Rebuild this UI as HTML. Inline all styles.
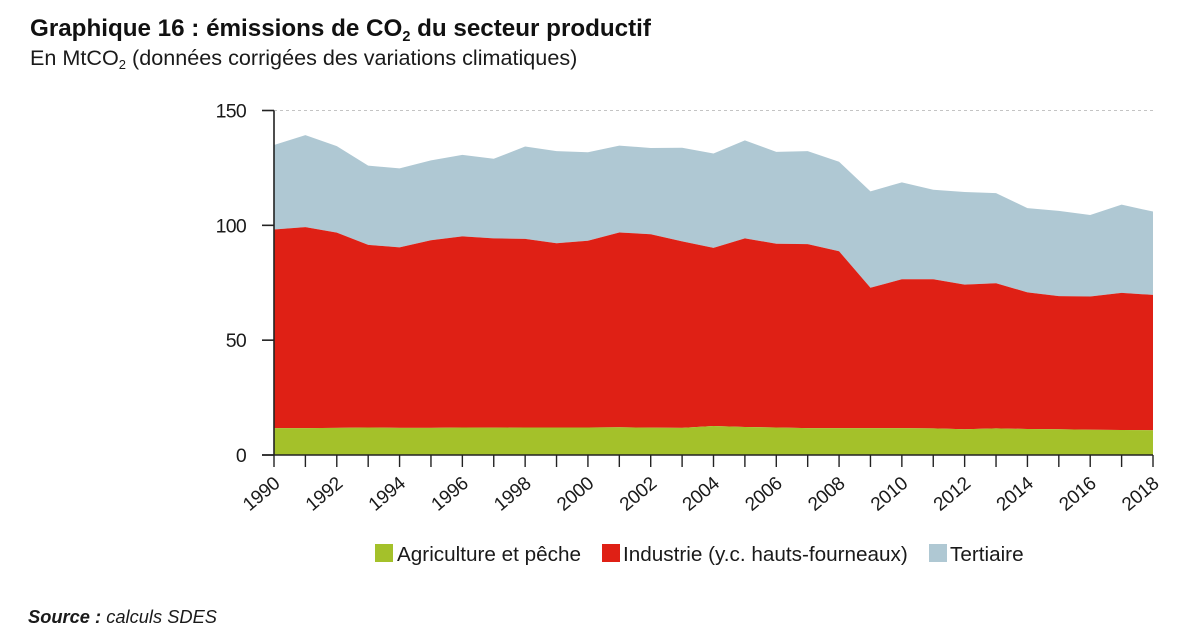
<!DOCTYPE html>
<html lang="fr">
<head>
<meta charset="utf-8">
<title>Émissions de CO2 du secteur productif</title>
<style>
html,body{margin:0;padding:0;background:#fff;width:1200px;height:641px;overflow:hidden}
svg{display:block;font-family:"Liberation Sans",Arial,sans-serif;fill:#1a1a1a}
</style>
</head>
<body>
<svg id="chart" width="1200" height="641" viewBox="0 0 1200 641">
  <text x="30" y="36" font-size="24.2" font-weight="bold" fill="#111">Graphique 16 : émissions de CO<tspan font-size="14.5" dy="5">2</tspan><tspan dy="-5"> du secteur productif</tspan></text>
  <text x="30" y="65" font-size="21.6">En MtCO<tspan font-size="13" dy="4">2</tspan><tspan dy="-4"> (données corrigées des variations climatiques)</tspan></text>
  <g id="plot"></g>
  <g>
    <g>
      <rect x="375" y="544" width="18" height="18" fill="#a4c12a"></rect>
      <text x="397" y="561" font-size="20.7">Agriculture et pêche</text>
    </g>
    <g>
      <rect x="602" y="544" width="18" height="18" fill="#df2015"></rect>
      <text x="623" y="561" font-size="20.7">Industrie (y.c. hauts-fourneaux)</text>
    </g>
    <g>
      <rect x="929" y="544" width="18" height="18" fill="#afc8d3"></rect>
      <text x="950" y="561" font-size="20.7">Tertiaire</text>
    </g>
  </g>
  <text x="28" y="623" font-size="18.3" font-style="italic"><tspan font-weight="bold">Source :</tspan> calculs SDES</text>
</svg>
<script>
const years = [1990,1991,1992,1993,1994,1995,1996,1997,1998,1999,2000,2001,2002,2003,2004,2005,2006,2007,2008,2009,2010,2011,2012,2013,2014,2015,2016,2017,2018];
const agriculture = [11.7,11.7,11.8,12,11.8,11.8,12,11.9,12,12,12,12.1,11.9,11.8,12.6,12.2,12,11.7,11.7,11.7,11.7,11.6,11.2,11.6,11.3,11.2,11,10.9,10.8];
const industrie = [86.5,87.5,85,79.5,78.6,81.7,83.2,82.4,82.1,80.2,81.3,84.8,84.2,81.2,77.6,82.1,80,80.1,77,61.1,64.8,64.9,63,63.2,59.5,58,58,59.7,58.9];
const tertiaire = [36.8,40.1,37.7,34.5,34.4,34.8,35.5,34.7,40.2,40.1,38.5,37.8,37.6,40.8,41.1,42.7,40,40.5,39,42,42.2,39,40.3,39.2,36.7,37.1,35.5,38.4,36.3];
const yTicks = [0,50,100,150];

const NS = 'http://www.w3.org/2000/svg';
const plot = document.getElementById('plot');
const X0 = 274, X1 = 1153, Y0 = 455, Y150 = 110.5;
function xScale(year){
  return X0 + (year - years[0]) * (X1 - X0) / (years[years.length - 1] - years[0]);
}
function yScale(value){
  return Y0 - value * (Y0 - Y150) / 150;
}
function make(tag, attrs){
  const el = document.createElementNS(NS, tag);
  for (const k in attrs) el.setAttribute(k, attrs[k]);
  return el;
}
function areaPoints(lower, upper){
  const top = years.map((y, i) => xScale(y).toFixed(2) + ',' + yScale(upper[i]).toFixed(2));
  const bottom = years.map((y, i) => xScale(y).toFixed(2) + ',' + yScale(lower[i]).toFixed(2)).reverse();
  return top.concat(bottom).join(' ');
}

const base = years.map(() => 0);
const agriTop = agriculture.slice();
const indTop = agriTop.map((v, i) => v + industrie[i]);
const terTop = indTop.map((v, i) => v + tertiaire[i]);

const grid = make('line', {x1: X0, x2: X1, y1: yScale(150), y2: yScale(150), stroke: '#c4c4c4', 'stroke-width': 1, 'stroke-dasharray': '3 3'});


plot.appendChild(grid);

const areaTer = make('polygon', {points: areaPoints(indTop, terTop), fill: '#afc8d3'});


plot.appendChild(areaTer);

const areaInd = make('polygon', {points: areaPoints(agriTop, indTop), fill: '#df2015'});


plot.appendChild(areaInd);

const areaAgri = make('polygon', {points: areaPoints(base, agriTop), fill: '#a4c12a'});


plot.appendChild(areaAgri);

const yAxis = make('line', {x1: X0, x2: X0, y1: yScale(150), y2: Y0, stroke: '#222', 'stroke-width': 1.6});


plot.appendChild(yAxis);

const xAxis = make('line', {x1: X0 - 12, x2: X1, y1: Y0, y2: Y0, stroke: '#222', 'stroke-width': 1.6});


plot.appendChild(xAxis);

yTicks.forEach(v => {
  const t = make('line', {x1: X0 - 12, x2: X0, y1: yScale(v), y2: yScale(v), stroke: '#222', 'stroke-width': 1.6});
  
  
  plot.appendChild(t);
  const l = make('text', {x: 246, y: yScale(v) + 7, 'font-size': 19.5, 'letter-spacing': '-0.7', 'text-anchor': 'end'});
  
  
  l.textContent = v;
  plot.appendChild(l);
});

years.forEach((y, i) => {
  const x = xScale(y);
  const t = make('line', {x1: x, x2: x, y1: Y0, y2: Y0 + 12, stroke: '#222', 'stroke-width': 1.4});
  
  
  plot.appendChild(t);
  if (i % 2 === 0) {
    const l = make('text', {x: 0, y: 6.6, 'font-size': 19, 'letter-spacing': '-0.3', 'text-anchor': 'middle', transform: 'translate(' + (x - 13) + ' 493.5) rotate(-40)'});
    
    
    l.textContent = y;
    plot.appendChild(l);
  }
});
</script>
</body>
</html>
